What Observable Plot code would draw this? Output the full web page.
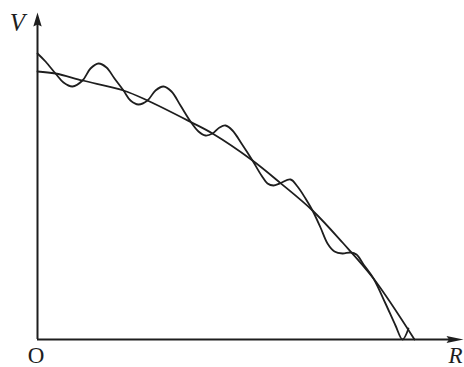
<!DOCTYPE html>
<html>
<head>
<meta charset="utf-8">
<script src="https://cdn.jsdelivr.net/npm/d3@7"></script>
<script src="https://cdn.jsdelivr.net/npm/@observablehq/plot@0.6"></script>
<style>
  html, body { margin: 0; padding: 0; background: #fff; }
</style>
</head>
<body>
<div id="chart"></div>
<script>
// Smooth (average) curve: R, V in arbitrary units
const smoothR = [0, 4.5, 11.25, 21.5, 27.5, 38.25, 43.75, 53.75, 60.75, 68.75, 76.25, 84, 94.25];
const smoothV = [67, 66.5, 64.75, 62.25, 59.75, 54.4, 51.5, 44.75, 39.1, 32.25, 24.25, 15.25, 0];

// Oscillating curve
const wavyR = [0, 2, 4.5, 6.5, 8.75, 11.25, 13.25, 15.25, 17.25, 19.25, 21.5, 23.25, 25.25, 27.5, 29.5, 31.5, 33.5, 35.75, 38.25, 40.25, 42, 43.75, 45.5, 47, 48.75, 51, 53.75, 56, 57.5, 59, 60.75, 63.25, 65, 67, 68.75, 70.75, 72.5, 74.25, 76.25, 78.25, 79.75, 81.5, 84, 87, 89.5, 91.25, 92.75];
const wavyV = [71.5, 69.5, 66.5, 64.25, 63.25, 64.75, 67.75, 69, 68, 65.25, 62.25, 59.75, 58.75, 59.75, 62.25, 63.25, 62, 58.5, 54.5, 52, 51, 51.5, 53, 53.5, 52.25, 49, 44.75, 41, 39, 38.5, 39.1, 40, 38.25, 35.25, 32.25, 28, 24, 22, 21.5, 21.75, 21.25, 18.75, 15.25, 9, 3.5, 0, 2.75];

// Axis extents and labels
const rMax = 106.5;
const vMax = 81.75;
const axisLabels = {v: "V", r: "R", origin: "O"};

const smooth = smoothR.map((r, i) => ({r, v: smoothV[i]}));
const wavy = wavyR.map((r, i) => ({r, v: wavyV[i]}));

const ink = "#1e1e1e";

// custom arrowhead symbols (tip at the anchor point)
const arrowUp = {
  draw(ctx) {
    ctx.moveTo(0, 0);
    ctx.lineTo(4.2, 14);
    ctx.lineTo(0, 12);
    ctx.lineTo(-4.2, 14);
    ctx.closePath();
  }
};
const arrowRight = {
  draw(ctx) {
    ctx.moveTo(0, 0);
    ctx.lineTo(-17, 3.6);
    ctx.lineTo(-14.5, 0);
    ctx.lineTo(-17, -3.6);
    ctx.closePath();
  }
};

const chart = Plot.plot({
  width: 464,
  height: 367,
  marginLeft: 37,
  marginRight: 1,
  marginTop: 12,
  marginBottom: 28,
  x: {domain: [0, rMax], axis: null},
  y: {domain: [0, vMax], axis: null},
  style: {background: "#fff"},
  marks: [
    Plot.ruleX([0], {y1: 0, y2: vMax - 2, stroke: ink, strokeWidth: 2}),
    Plot.ruleY([0], {x1: 0, x2: rMax - 3, stroke: ink, strokeWidth: 2}),
    Plot.dot([{r: 0, v: vMax}], {x: "r", y: "v", symbol: arrowUp, fill: ink, stroke: "none"}),
    Plot.dot([{r: rMax, v: 0}], {x: "r", y: "v", symbol: arrowRight, fill: ink, stroke: "none"}),
    Plot.line(smooth, {x: "r", y: "v", curve: "catmull-rom", stroke: ink, strokeWidth: 1.8}),
    Plot.line(wavy, {x: "r", y: "v", curve: "catmull-rom", stroke: ink, strokeWidth: 1.8}),
    Plot.text([axisLabels.v], {frameAnchor: "top-left", dx: -20, dy: 10, textAnchor: "middle", lineAnchor: "middle",
      fontFamily: "Liberation Serif", fontStyle: "italic", fontSize: 25, fill: ink}),
    Plot.text([axisLabels.origin], {frameAnchor: "bottom-left", dx: -1.5, dy: 16.5, textAnchor: "middle", lineAnchor: "middle",
      fontFamily: "Liberation Serif", fontSize: 23, fill: ink}),
    Plot.text([axisLabels.r], {frameAnchor: "bottom-right", dx: -8, dy: 16.5, textAnchor: "middle", lineAnchor: "middle",
      fontFamily: "Liberation Serif", fontStyle: "italic", fontSize: 23, fill: ink})
  ]
});
document.getElementById("chart").appendChild(chart);
</script>
</body>
</html>
